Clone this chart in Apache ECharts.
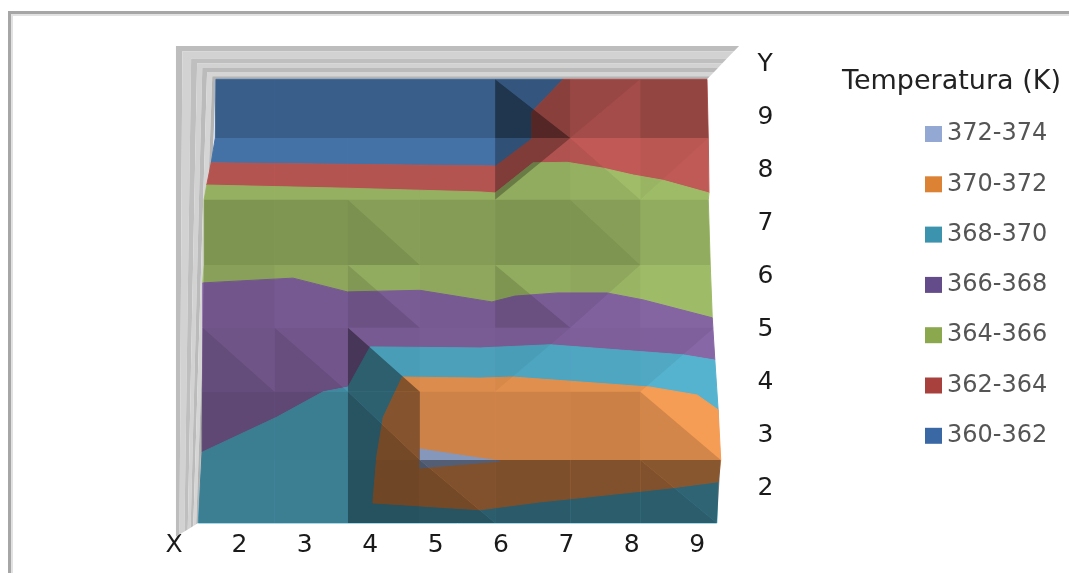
<!DOCTYPE html>
<html>
<head>
<meta charset="utf-8">
<style>html,body{margin:0;padding:0;background:#fff}#chart{width:1069px;height:573px}</style>
<script src="https://cdn.jsdelivr.net/npm/echarts@6/dist/echarts.min.js"></script>
</head>
<body>
<div id="chart"></div>
<script>
// Axis tick labels, starting from tick value 1 on each axis
const xTickLabels = ['X', '2', '3', '4', '5', '6', '7', '8', '9'];
const yTickLabels = ['', '2', '3', '4', '5', '6', '7', '8', '9', 'Y'];

// Temperature bands, in legend order
const bandNames = ['372-374', '370-372', '368-370', '366-368', '364-366', '362-364', '360-362'];
const legendColors = ['#93A8D2', '#DC8235', '#3C93AE', '#644C8A', '#8BA84E', '#A8413D', '#3A68A5'];
const surfaceColors = ['#A0B4E0', '#F59C55', '#55B3D0', '#8867A6', '#A2BF6A', '#C45C58', '#4B7CB5'];

// Contour outlines of each band as [x, y] in axis units
const band360 = [[1.64,9.73],[6.95,9.73],[6.47,9.11],[6.47,8.60],[5.92,8.09],[1.57,8.15],[1.63,8.62]];
const band362 = [[1.57,8.15],[5.92,8.09],[6.47,8.60],[6.47,9.11],[6.95,9.73],[9.15,9.73],[9.17,8.62],
  [9.18,7.58],[8.48,7.82],[8.02,7.92],[7.56,8.05],[7.01,8.16],[6.49,8.15],[5.91,7.58],[5.68,7.60],[3.65,7.67],[1.50,7.73]];
const band364 = [[1.50,7.73],[3.65,7.67],[5.68,7.60],[5.91,7.58],[6.49,8.15],[7.01,8.16],[7.56,8.05],[8.02,7.92],[8.48,7.82],[9.18,7.58],
  [9.17,7.45],[9.20,6.22],[9.23,5.22],[8.17,5.56],[7.62,5.69],[6.86,5.69],[6.21,5.63],[5.86,5.52],[4.76,5.74],[3.65,5.71],[2.82,5.97],[1.44,5.88],[1.46,6.22],[1.46,7.45]];
const band366 = [[1.44,5.88],[2.82,5.97],[3.65,5.71],[4.76,5.74],[5.86,5.52],[6.21,5.63],[6.86,5.69],[7.62,5.69],[8.17,5.56],[9.23,5.22],
  [9.27,4.42],[8.78,4.52],[6.75,4.71],[5.68,4.65],[4.00,4.67],[3.66,3.91],[3.28,3.82],[2.57,3.34],[1.43,2.68],[1.44,5.03]];
const band368 = [[4.00,4.67],[5.68,4.65],[6.75,4.71],[8.78,4.52],[9.27,4.42],[9.32,3.48],[9.32,2.12],[9.30,1.34],[1.37,1.34],
  [1.43,2.68],[2.57,3.34],[3.28,3.82],[3.66,3.91]];
const band370 = [[4.49,4.10],[5.68,4.08],[6.18,4.10],[8.28,3.91],[9.00,3.76],[9.32,3.48],[9.36,2.53],[9.32,2.12],[8.58,2.00],[7.31,1.83],
  [6.60,1.74],[5.68,1.59],[4.04,1.72],[4.10,2.59],[4.20,3.34]];
const band372 = [[4.76,2.74],[5.98,2.51],[4.76,2.38]];
const bandOutlines = [band372, band370, band368, band366, band364, band362, band360];

// Surface mesh vertices: each row's y, shared inner columns, and the bowed outer edges
const meshRowY = [9.73, 8.62, 7.45, 6.22, 5.03, 3.82, 2.53, 1.34];
const meshInnerX = [2.54, 3.66, 4.76, 5.91, 7.06, 8.13];
const meshLeftX = [1.64, 1.63, 1.46, 1.46, 1.44, 1.43, 1.41, 1.37];
const meshRightX = [9.15, 9.17, 9.17, 9.20, 9.26, 9.32, 9.36, 9.30];

// Facet lighting per mesh cell. '\\' splits a cell into lower-left and upper-right,
// '/' into upper-left and lower-right; each cell has a darkness for both halves.
const cellDiagonal = [
  ['\\','\\','\\','\\','\\','/','/'],
  ['/','/','/','/','/','\\','/'],
  ['\\','\\','\\','\\','\\','\\','/'],
  ['\\','\\','\\','\\','\\','/','/'],
  ['\\','\\','\\','/','/','\\','/'],
  ['\\','\\','\\','\\','\\','\\','\\'],
  ['\\','\\','\\','\\','\\','\\','\\']
];
const shadeFirst = [
  [.24,.24,.24,.24,.57,.22,.25],
  [.08,.08,.08,.08,.35,.08,.05],
  [.22,.21,.24,.18,.22,.22,.10],
  [.16,.13,.20,.12,.22,.12,.02],
  [.26,.24,.47,.10,.12,.07,.06],
  [.30,.30,.53,.16,.16,.17,.14],
  [.29,.29,.55,.53,.49,.48,.48]
];
const shadeSecond = [
  [.24,.24,.24,.24,.30,.17,.25],
  [.08,.08,.08,.08,.10,.01,.02],
  [.22,.21,.17,.18,.22,.17,.10],
  [.16,.13,.10,.12,.10,.05,.02],
  [.18,.16,.12,.10,.08,.07,.00],
  [.30,.30,.46,.16,.16,.17,.00],
  [.29,.29,.55,.48,.49,.48,.44]
];

// Back walls: outer and inner edges (bottom-left, top-left, top-right) and stripe tones
const wallOuter = [[1.03,1.08],[1.03,10.36],[9.64,10.36]];
const wallInner = [[1.37,1.34],[1.64,9.73],[9.15,9.73]];
const wallStops = [0, .16, .38, .53, .66, .78, .91, 1];
const wallGreys = ['#BDBDBD', '#D2D2D2', '#BFBFBF', '#D2D2D2', '#BBBBBB', '#D5D5D5', '#B4B4B4'];

const FONT = 'DejaVu Sans';

function meshX(col, row) {
  if (col === 0) return meshLeftX[row];
  if (col === 7) return meshRightX[row];
  return meshInnerX[col - 1];
}

// Half-cell triangles; a cell lit evenly stays one quad so no seam runs across it
const facets = [];
cellDiagonal.forEach((cols, r) => cols.forEach((kind, c) => {
  const tl = [meshX(c, r), meshRowY[r]], tr = [meshX(c + 1, r), meshRowY[r]];
  const bl = [meshX(c, r + 1), meshRowY[r + 1]], br = [meshX(c + 1, r + 1), meshRowY[r + 1]];
  if (shadeFirst[r][c] === shadeSecond[r][c]) {
    facets.push({ pts: [tl, tr, br, bl], shade: shadeFirst[r][c] });
  } else if (kind === '\\') {
    facets.push({ pts: [tl, bl, br], shade: shadeFirst[r][c] });
    facets.push({ pts: [tl, tr, br], shade: shadeSecond[r][c] });
  } else {
    facets.push({ pts: [tl, tr, bl], shade: shadeFirst[r][c] });
    facets.push({ pts: [tr, br, bl], shade: shadeSecond[r][c] });
  }
}));

function mix(a, b, t) { return [a[0] + (b[0] - a[0]) * t, a[1] + (b[1] - a[1]) * t]; }

const wallSeries = {
  type: 'custom', name: 'walls', silent: true, z: 1,
  coordinateSystem: 'cartesian2d',
  data: wallGreys.map((g, i) => [wallOuter[0][0], wallOuter[0][1], i]),
  encode: { x: 0, y: 1 },
  renderItem(params, api) {
    const i = params.dataIndex;
    const ring = t => wallOuter.map((p, k) => mix(p, wallInner[k], t));
    const pts = ring(wallStops[i]).concat(ring(wallStops[i + 1]).reverse()).map(p => api.coord(p));
    return { type: 'polygon', shape: { points: pts }, style: { fill: wallGreys[i] } };
  }
};

// Paint order runs from the largest underlying band up to the small peak
const paintOrder = [6, 5, 4, 3, 2, 1, 0];
const bandSeries = paintOrder.map(i => ({
  type: 'custom', name: bandNames[i], silent: true, z: 2,
  coordinateSystem: 'cartesian2d',
  itemStyle: { color: legendColors[i] },
  data: [bandOutlines[i][0]],
  encode: { x: 0, y: 1 },
  renderItem(params, api) {
    return {
      type: 'polygon',
      shape: { points: bandOutlines[i].map(p => api.coord(p)) },
      style: { fill: surfaceColors[i], stroke: surfaceColors[i], lineWidth: 1 }
    };
  }
}));

const facetSeries = {
  type: 'custom', name: 'facets', silent: true, z: 3,
  coordinateSystem: 'cartesian2d',
  data: facets.map(f => f.pts[0]),
  encode: { x: 0, y: 1 },
  renderItem(params, api) {
    const f = facets[params.dataIndex];
    return {
      type: 'polygon',
      shape: { points: f.pts.map(p => api.coord(p)) },
      style: { fill: 'rgba(0,0,0,' + f.shade + ')' }
    };
  }
};

const chart = echarts.init(document.getElementById('chart'), null, { renderer: 'canvas' });
chart.setOption({
  backgroundColor: '#fff',
  animation: false,
  title: {
    text: 'Temperatura (K)', left: 842, top: 68, padding: 0,
    textStyle: { fontFamily: FONT, fontSize: 27, fontWeight: 'normal', color: '#222' }
  },
  legend: {
    orient: 'vertical', left: 925, top: 122, padding: 0,
    data: bandNames,
    icon: 'rect', itemWidth: 17, itemHeight: 16, itemGap: 26.3,
    selectedMode: false,
    textStyle: { fontFamily: FONT, fontSize: 24, color: '#555' }
  },
  grid: { left: 174, top: 12.1, width: 588.6, height: 528.9, containLabel: false },
  xAxis: {
    type: 'value', min: 1, max: 10, interval: 1,
    axisLine: { show: false }, axisTick: { show: false }, splitLine: { show: false },
    axisLabel: {
      margin: -8, fontFamily: FONT, fontSize: 25, color: '#1a1a1a',
      showMinLabel: true, showMaxLabel: true,
      formatter: v => xTickLabels[v - 1] || ''
    }
  },
  yAxis: {
    type: 'value', position: 'right', min: 1, max: 11, interval: 1,
    axisLine: { show: false }, axisTick: { show: false }, splitLine: { show: false },
    axisLabel: {
      margin: -5, fontFamily: FONT, fontSize: 25, color: '#1a1a1a', padding: [8, 0, 0, 0],
      showMinLabel: true, showMaxLabel: true,
      formatter: v => yTickLabels[v - 1] || ''
    }
  },
  graphic: [
    { type: 'polyline', silent: true, z: -1, shape: { points: [[9.5, 600], [9.5, 12.5], [1100, 12.5]] },
      style: { fill: 'none', stroke: '#A6A6A6', lineWidth: 3 } },
    { type: 'polyline', silent: true, z: -1, shape: { points: [[12, 600], [12, 15], [1100, 15]] },
      style: { fill: 'none', stroke: '#E2E2E2', lineWidth: 2 } }
  ],
  series: [wallSeries].concat(bandSeries, [facetSeries])
});
</script>
</body>
</html>
